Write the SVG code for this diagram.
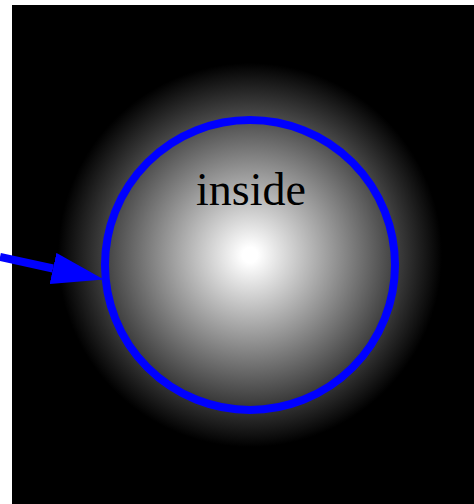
<svg xmlns="http://www.w3.org/2000/svg" width="474" height="504" viewBox="0 0 474 504">
<defs>
<radialGradient id="glow" gradientUnits="userSpaceOnUse" cx="250" cy="255" r="192">
<stop offset="0.04" stop-color="#ffffff"/>
<stop offset="1" stop-color="#000000"/>
</radialGradient>
<marker id="arrow" markerUnits="userSpaceOnUse" markerWidth="52" markerHeight="32" refX="0" refY="16" orient="auto" viewBox="0 0 52 32">
<path d="M0,0 L52,16 L0,32 Z" fill="#0000ff"/>
</marker>
<style>
.ring{fill:none;stroke:#0000ff;stroke-width:8}
.lbl{font-family:"Liberation Serif","Times New Roman",serif;font-size:46px;fill:#000;text-anchor:middle}
.conn{stroke:#0000ff;stroke-width:8;fill:none}
</style>
</defs>
<rect x="0" y="0" width="474" height="504" fill="#ffffff"/>
<rect x="12" y="5" width="462" height="499" fill="url(#glow)"/>
<g id="node-inside">
<circle class="ring" cx="250" cy="265" r="145"/>
<text class="lbl" x="251" y="205">inside</text>
</g>
<g id="connectors">
<path class="conn" d="M0,257 L53,268.5" marker-end="url(#arrow)"/>
</g>
</svg>
